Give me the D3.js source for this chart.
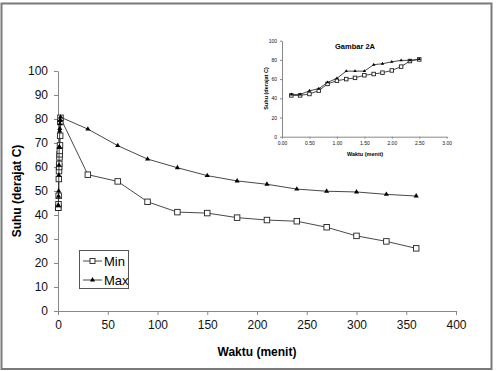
<!DOCTYPE html>
<html>
<head>
<meta charset="utf-8">
<script src="https://cdn.jsdelivr.net/npm/d3@7"></script>
<style>
  body { margin: 0; background: #fff; }
  svg { font-family: "Liberation Sans", Arial, sans-serif; }
</style>
</head>
<body>
<div id="chart"></div>
<script>
// waktu (menit): first 15 readings are in the first 2.5 minutes
var waktu = [0.17, 0.33, 0.5, 0.67, 0.83, 1.0, 1.17, 1.33, 1.5, 1.67, 1.83, 2.0, 2.17, 2.33, 2.5,
             30, 60, 90, 120, 150, 180, 210, 240, 270, 300, 330, 360];
var suhuMin = [43, 43, 44.5, 48, 55, 58.3, 60, 61.3, 64, 65.3, 66.7, 69, 73, 78.8, 80.5,
               56.8, 54, 45.5, 41.2, 40.8, 38.9, 37.9, 37.4, 34.9, 31.3, 29, 26.1];
var suhuMax = [44, 44, 47.8, 50, 56.6, 60.8, 68.3, 68.3, 68.3, 75, 76, 78, 79.5, 79.5, 80.8,
               75.8, 68.9, 63.3, 59.7, 56.4, 54.2, 52.8, 50.8, 49.9, 49.6, 48.6, 47.9];
var nInset = 15;

var yTicks = [0, 10, 20, 30, 40, 50, 60, 70, 80, 90, 100];
var xTicks = [0, 50, 100, 150, 200, 250, 300, 350, 400];
var yTicksInset = [0, 20, 40, 60, 80, 100];
var xTicksInset = [0, 0.5, 1, 1.5, 2, 2.5, 3];

var width = 498, height = 371;

var svg = d3.select("#chart").append("svg")
  .attr("width", width)
  .attr("height", height);

// frame round the whole chart
svg.append("rect")
  .attr("x", 1.5).attr("y", 3.5)
  .attr("width", 490).attr("height", 365.5)
  .attr("fill", "none")
  .attr("stroke", "#7a7a7a")
  .attr("stroke-width", 2);

var minData = waktu.map(function(d, i) { return [d, suhuMin[i]]; });
var maxData = waktu.map(function(d, i) { return [d, suhuMax[i]]; });

function drawSeries(g, x, y, data, kind, size) {
  var line = d3.line().x(function(d) { return x(d[0]); }).y(function(d) { return y(d[1]); });
  g.append("path")
    .datum(data)
    .attr("d", line)
    .attr("fill", "none")
    .attr("stroke", "#333")
    .attr("stroke-width", 0.9);
  if (kind == "square") {
    g.selectAll(null)
      .data(data)
      .enter()
      .append("rect")
      .attr("x", function(d) { return x(d[0]) - size / 2; })
      .attr("y", function(d) { return y(d[1]) - size / 2; })
      .attr("width", size).attr("height", size)
      .attr("fill", "#fff")
      .attr("stroke", "#222")
      .attr("stroke-width", 0.9);
  } else {
    var tri = d3.symbol().type(d3.symbolTriangle).size(size * size * 0.45);
    g.selectAll(null)
      .data(data)
      .enter()
      .append("path")
      .attr("d", tri)
      .attr("transform", function(d) { return "translate(" + x(d[0]) + "," + y(d[1]) + ")"; })
      .attr("fill", "#000");
  }
}

function styleAxis(a, fontSize) {
  a.selectAll(".domain").attr("stroke", "#888");
  a.selectAll(".tick line").attr("stroke", "#888");
  a.selectAll(".tick text").attr("fill", "#111").style("font-size", fontSize + "px");
}

// ---- main chart ----
var x = d3.scaleLinear().domain([0, 400]).range([58, 456]);
var y = d3.scaleLinear().domain([0, 100]).range([311, 71]);

var gy = svg.append("g")
  .attr("transform", "translate(58,0)")
  .call(d3.axisLeft(y).tickValues(yTicks).tickSize(4).tickSizeOuter(0).tickPadding(6));
styleAxis(gy, 12);

var gx = svg.append("g")
  .attr("transform", "translate(0,311)")
  .call(d3.axisBottom(x).tickValues(xTicks).tickSize(4).tickSizeOuter(0).tickPadding(5));
styleAxis(gx, 12);

var main = svg.append("g");
drawSeries(main, x, y, minData, "square", 5.5);
drawSeries(main, x, y, maxData, "triangle", 5);

svg.append("text")
  .attr("x", 257).attr("y", 356)
  .attr("text-anchor", "middle")
  .style("font-size", "12px").style("font-weight", "bold")
  .text("Waktu (menit)");

svg.append("text")
  .attr("transform", "translate(21,191) rotate(-90)")
  .attr("text-anchor", "middle")
  .style("font-size", "12px").style("font-weight", "bold")
  .text("Suhu (derajat C)");

// legend
var legend = svg.append("g");
legend.append("rect")
  .attr("x", 79.5).attr("y", 250.5)
  .attr("width", 49).attr("height", 38)
  .attr("fill", "#fff").attr("stroke", "#555").attr("stroke-width", 1);
var items = [["Min", "square", 261], ["Max", "triangle", 280]];
items.forEach(function(it) {
  legend.append("line")
    .attr("x1", 83).attr("x2", 102)
    .attr("y1", it[2]).attr("y2", it[2])
    .attr("stroke", "#333").attr("stroke-width", 0.9);
  if (it[1] == "square") {
    legend.append("rect")
      .attr("x", 90).attr("y", it[2] - 2.5)
      .attr("width", 5).attr("height", 5)
      .attr("fill", "#fff").attr("stroke", "#222").attr("stroke-width", 0.9);
  } else {
    legend.append("path")
      .attr("d", d3.symbol().type(d3.symbolTriangle).size(11))
      .attr("transform", "translate(92.5," + it[2] + ")")
      .attr("fill", "#000");
  }
  legend.append("text")
    .attr("x", 104).attr("y", it[2] + 4.5)
    .style("font-size", "13px")
    .text(it[0]);
});

// ---- inset (Gambar 2A) ----
var xi = d3.scaleLinear().domain([0, 3]).range([282, 446.7]);
var yi = d3.scaleLinear().domain([0, 100]).range([136.7, 40.7]);

var giy = svg.append("g")
  .attr("transform", "translate(282,0)")
  .call(d3.axisLeft(yi).tickValues(yTicksInset).tickSize(2).tickSizeOuter(0).tickPadding(3));
styleAxis(giy, 5);

var gix = svg.append("g")
  .attr("transform", "translate(0,136.7)")
  .call(d3.axisBottom(xi).tickValues(xTicksInset).tickSize(2).tickSizeOuter(0).tickPadding(3)
    .tickFormat(d3.format(".2f")));
styleAxis(gix, 5);

var inset = svg.append("g");
drawSeries(inset, xi, yi, minData.slice(0, nInset), "square", 3.5);
drawSeries(inset, xi, yi, maxData.slice(0, nInset), "triangle", 3.3);

svg.append("text")
  .attr("x", 355).attr("y", 48.5)
  .attr("text-anchor", "middle")
  .style("font-size", "7.5px").style("font-weight", "bold")
  .text("Gambar 2A");

svg.append("text")
  .attr("x", 365).attr("y", 156)
  .attr("text-anchor", "middle")
  .style("font-size", "5.5px").style("font-weight", "bold")
  .text("Waktu (menit)");

svg.append("text")
  .attr("transform", "translate(267.5,88.5) rotate(-90)")
  .attr("text-anchor", "middle")
  .style("font-size", "5.5px").style("font-weight", "bold")
  .text("Suhu (derajat C)");
</script>
</body>
</html>
